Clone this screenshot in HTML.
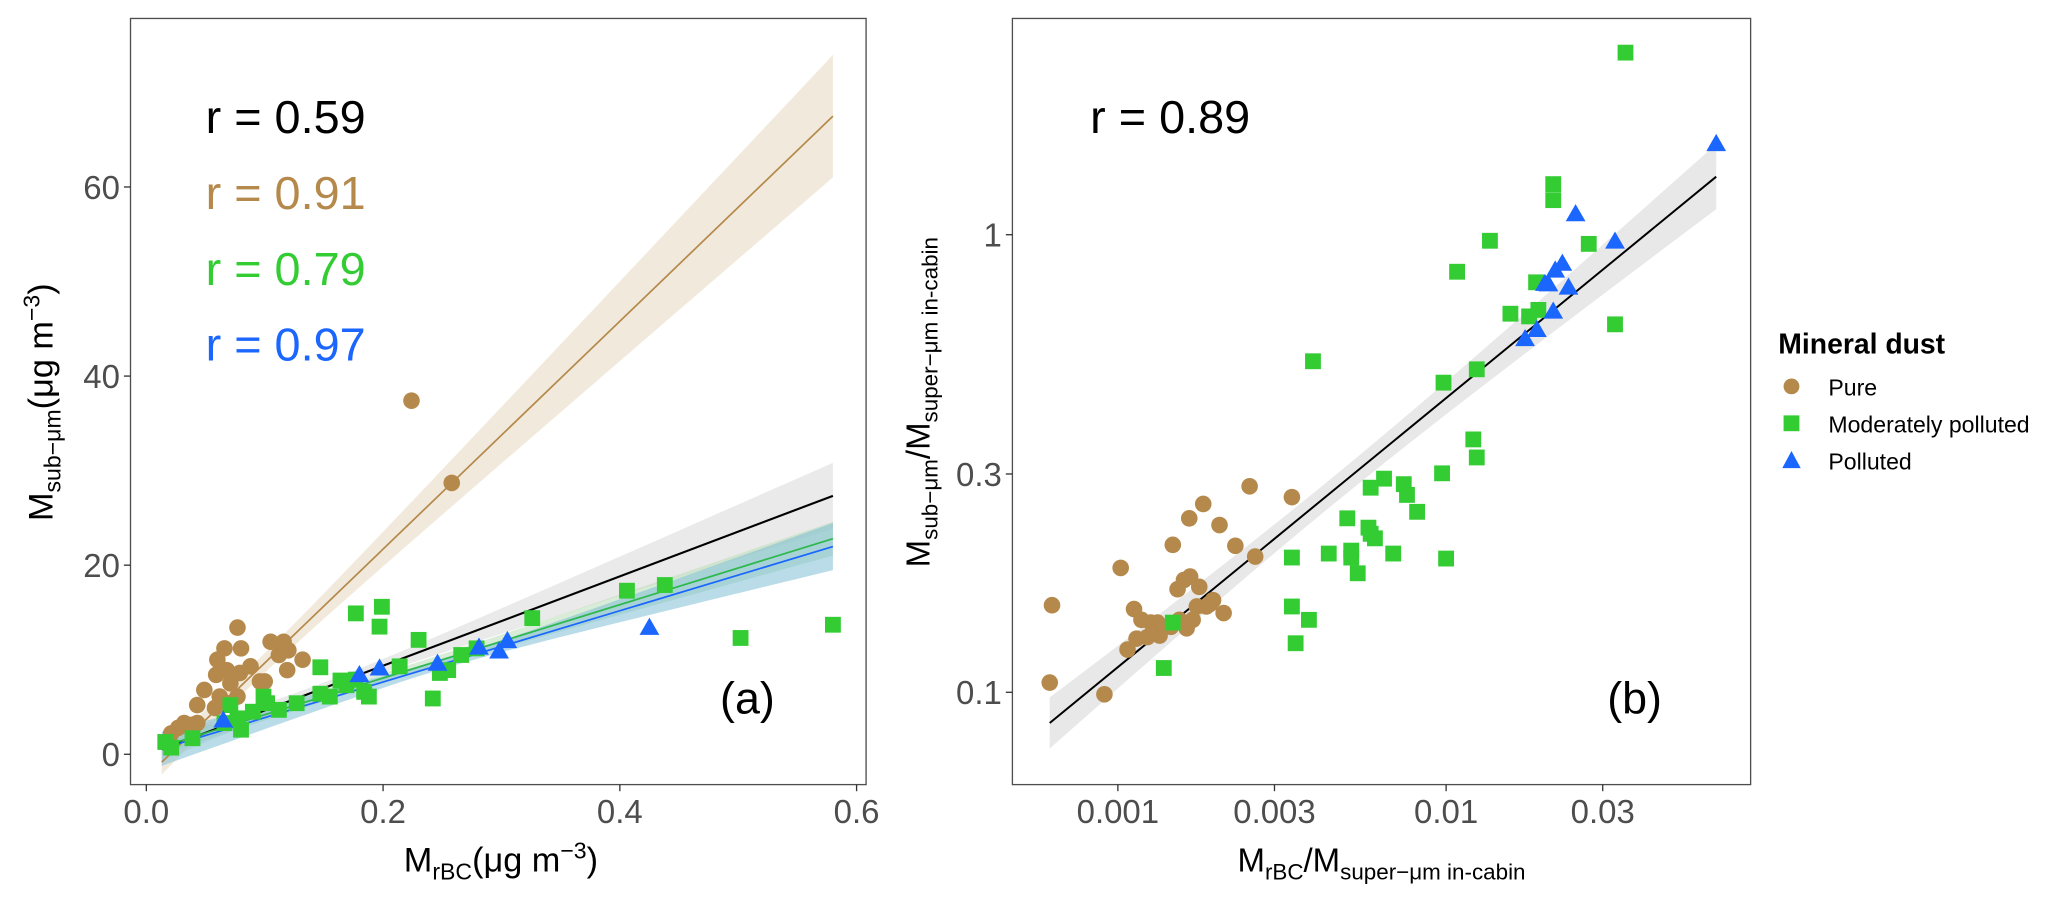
<!DOCTYPE html>
<html><head><meta charset="utf-8"><style>
html,body{margin:0;padding:0;background:#fff;}
svg{display:block;font-family:"Liberation Sans",Arial,sans-serif;}
</style></head><body>
<svg id="chart" width="2067" height="898" viewBox="0 0 1568 681" preserveAspectRatio="none" xmlns="http://www.w3.org/2000/svg">
<rect x="0" y="0" width="1568" height="681" fill="#fff"/>
<g id="pa"></g>
<g id="pb"></g>
<g id="legend">
<text x="1349" y="268" font-size="21.5" font-weight="bold" fill="#000">Mineral dust</text>
<circle cx="1359" cy="293" r="6" fill="#b5894b"/>
<text x="1387" y="300" font-size="17.5" fill="#000">Pure</text>
<rect x="1353" y="315" width="12" height="12" fill="#33cc33"/>
<text x="1387" y="328" font-size="17.5" fill="#000">Moderately polluted</text>
<polygon points="1359,342 1366,355 1352,355" fill="#1a66ff"/>
<text x="1387" y="356" font-size="17.5" fill="#000">Polluted</text>
</g>
</svg>
<script>
// ---------- Panel (a) data ----------
const aPureX=[0.224,0.258,0.077,0.066,0.080,0.060,0.105,0.116,0.120,0.132,0.112,0.119,0.088,0.079,0.068,0.059,0.071,0.096,0.100,0.049,0.062,0.077,0.070,0.058,0.043,0.032,0.038,0.027,0.021,0.043];
const aPureY=[37.4,28.7,13.4,11.2,11.2,10.0,11.9,11.9,11.0,10.0,10.5,8.9,9.3,8.6,8.9,8.4,7.5,7.7,7.7,6.8,6.1,6.1,5.4,4.9,5.2,3.3,3.1,2.8,2.2,3.3];
const aModX=[0.016,0.021,0.039,0.066,0.080,0.077,0.071,0.090,0.099,0.102,0.112,0.127,0.147,0.155,0.164,0.169,0.177,0.184,0.188,0.177,0.199,0.197,0.214,0.230,0.242,0.248,0.255,0.266,0.279,0.326,0.406,0.438,0.502,0.580,0.147];
const aModY=[1.3,0.7,1.7,3.3,2.6,3.8,5.2,4.5,6.1,5.4,4.7,5.4,6.4,6.1,7.8,7.3,7.9,6.6,6.1,14.9,15.6,13.5,9.3,12.1,5.9,8.6,8.9,10.5,11.2,14.4,17.3,17.9,12.3,13.7,9.2];
const aPolX=[0.065,0.180,0.197,0.246,0.281,0.298,0.305,0.425];
const aPolY=[3.6,8.4,9.1,9.6,11.3,10.9,12.0,13.4];
const aFitNames=['all','pure','moderate','polluted'];
const aFitIntercept=[-0.1,-2.4,0.3,0.1];
const aFitSlope=[47.3,120.5,38.8,37.7];
const aFitHmin=[0.6,1.0,0.5,0.5];
const aFitK=[8.0,12.8,4.3,7.4];
const aFitXm=[0.15,0.08,0.18,0.25];
const aXTicks=[0.0,0.2,0.4,0.6];
const aXTickLabels=['0.0','0.2','0.4','0.6'];
const aYTicks=[0,20,40,60];
const aYTickLabels=['0','20','40','60'];
const aR=['r = 0.59','r = 0.91','r = 0.79','r = 0.97'];

// ---------- Panel (b) data ----------
const bPureX=[0.00062,0.00091,0.00063,0.00102,0.00112,0.00118,0.00126,0.00132,0.00123,0.00134,0.00145,0.00154,0.00107,0.00114,0.00147,0.00165,0.00182,0.00166,0.00177,0.00152,0.00169,0.00186,0.00195,0.0021,0.00204,0.00228,0.00262,0.00252,0.00339,0.00159,0.00191,0.00174,0.00162];
const bPureY=[0.105,0.099,0.155,0.187,0.152,0.144,0.142,0.142,0.132,0.133,0.139,0.144,0.124,0.131,0.21,0.24,0.258,0.179,0.17,0.168,0.144,0.154,0.159,0.149,0.232,0.209,0.198,0.282,0.267,0.176,0.156,0.154,0.138];
const bModX=[0.00138,0.00147,0.00339,0.00348,0.00382,0.00339,0.00393,0.00439,0.005,0.00514,0.00514,0.00538,0.0058,0.00589,0.00607,0.00647,0.00589,0.0069,0.00743,0.0076,0.00816,0.00972,0.01,0.00982,0.0121,0.0124,0.0124,0.0108,0.0136,0.0157,0.0188,0.0179,0.0191,0.0212,0.0212,0.0272,0.0327,0.0352];
const bModY=[0.113,0.142,0.154,0.128,0.144,0.197,0.529,0.201,0.24,0.204,0.197,0.182,0.229,0.222,0.217,0.293,0.28,0.201,0.285,0.27,0.248,0.301,0.196,0.475,0.357,0.326,0.508,0.83,0.97,0.672,0.787,0.663,0.685,1.29,1.19,0.955,0.637,2.5];
const bPolX=[0.0174,0.0189,0.02,0.0212,0.0215,0.0226,0.0236,0.0248,0.0327,0.0665,0.0205];
const bPolY=[0.592,0.62,0.782,0.68,0.836,0.865,0.767,1.11,0.967,1.58,0.78];
const bFitIntercept=[0.819];
const bFitSlope=[0.588];
const bXTicks=[0.001,0.003,0.01,0.03];
const bXTickLabels=['0.001','0.003','0.01','0.03'];
const bYTicks=[0.1,0.3,1];
const bYTickLabels=['0.1','0.3','1'];
const bR=['r = 0.89'];

const NS='http://www.w3.org/2000/svg';
const COL={pure:'#b5894b',mod:'#33cc33',pol:'#1a66ff',all:'#000'};
function mk(parent,tag,attrs){const e=document.createElementNS(NS,tag);for(const k in attrs)e.setAttribute(k,attrs[k]);parent.appendChild(e);return e;}

const A={l:99,r:657,t:14,b:595};
const ax=v=>111+v*898;
const ay=v=>572-v*7.17;
const pa=document.getElementById('pa');
const aFitCols=['#000','#b5894b','#2db84d','#1a66ff'];
const aBandCols=['#d9d9d9','#e6d8bf','#b8dcb8','#7fc0d6'];
const aBandOp=[0.55,0.55,0.55,0.55];
const x0=0.013,x1=0.58;
for(let f=0;f<4;f++){
  let up=[],lo=[];
  for(let i=0;i<=40;i++){const x=x0+(x1-x0)*i/40;const m=aFitIntercept[f]+aFitSlope[f]*x;const h=Math.sqrt(aFitHmin[f]**2+(aFitK[f]*(x-aFitXm[f]))**2);up.push(ax(x)+','+ay(m+h));lo.unshift(ax(x)+','+ay(m-h));}
  const b=mk(pa,'polygon',{points:up.concat(lo).join(' '),fill:aBandCols[f],'fill-opacity':aBandOp[f]});
  
  
}
for(let f=0;f<4;f++){
  const l=mk(pa,'line',{x1:ax(x0),y1:ay(aFitIntercept[f]+aFitSlope[f]*x0),x2:ax(x1),y2:ay(aFitIntercept[f]+aFitSlope[f]*x1),stroke:aFitCols[f],'stroke-width':f==0?1.6:1.3});
  
  
}
function circ(g,x,y,c,name){const e=mk(g,'circle',{cx:x,cy:y,r:6.3,fill:c});}
function sq(g,x,y,c,name){const e=mk(g,'rect',{x:x-6,y:y-6,width:12,height:12,fill:c});}
function tri(g,x,y,c,name){const e=mk(g,'polygon',{points:`${x},${y-7.5} ${x+7.5},${y+5.5} ${x-7.5},${y+5.5}`,fill:c});}
aPureX.forEach((v,i)=>circ(pa,ax(v),ay(aPureY[i]),COL.pure,'point-a-pure'));
aModX.forEach((v,i)=>sq(pa,ax(v),ay(aModY[i]),COL.mod,'point-a-moderate'));
aPolX.forEach((v,i)=>tri(pa,ax(v),ay(aPolY[i]),COL.pol,'point-a-polluted'));
let fr=mk(pa,'rect',{x:A.l,y:A.t,width:A.r-A.l,height:A.b-A.t,fill:'none',stroke:'#4d4d4d','stroke-width':1});

aXTicks.forEach((v,i)=>{mk(pa,'line',{x1:ax(v),x2:ax(v),y1:A.b,y2:A.b+5,stroke:'#333'});
  const t=mk(pa,'text',{x:ax(v),y:A.b+29,'font-size':25,fill:'#4d4d4d','text-anchor':'middle'});t.textContent=aXTickLabels[i];
  });
aYTicks.forEach((v,i)=>{mk(pa,'line',{x1:A.l-5,x2:A.l,y1:ay(v),y2:ay(v),stroke:'#333'});
  const t=mk(pa,'text',{x:A.l-8,y:ay(v)+9,'font-size':25,fill:'#4d4d4d','text-anchor':'end'});t.textContent=aYTickLabels[i];
  });
const rCols=['#000','#b5894b','#33cc33','#1a66ff'];
aR.forEach((s,i)=>{const t=mk(pa,'text',{x:156,y:101+i*57.5,'font-size':35.5,fill:rCols[i]});t.textContent=s;
  });
let lab=mk(pa,'text',{x:567,y:541,'font-size':34,fill:'#000','text-anchor':'middle'});lab.textContent='(a)';

let xt=mk(pa,'text',{x:380,y:661,'font-size':26,fill:'#000','text-anchor':'middle'});
xt.innerHTML='M<tspan font-size="17.5" dy="6">rBC</tspan><tspan dy="-6">(μg m</tspan><tspan font-size="17.5" dy="-10">−3</tspan><tspan dy="10">)</tspan>';

let yt=mk(pa,'text',{x:0,y:0,'font-size':26,fill:'#000','text-anchor':'middle',transform:'translate(40,305) rotate(-90)'});
yt.innerHTML='M<tspan font-size="17.5" dy="6">sub−μm</tspan><tspan dy="-6">(μg m</tspan><tspan font-size="17.5" dy="-10">−3</tspan><tspan dy="10">)</tspan>';


const B={l:768,r:1328,t:14,b:595};
const bx=v=>848+249*Math.log10(v/0.001);
const by=v=>178-347*Math.log10(v);
const pb=document.getElementById('pb');
{
  const lx0=Math.log10(0.00062),lx1=Math.log10(0.0665),xm=-2.35;
  let up=[],lo=[];
  for(let i=0;i<=40;i++){const lx=lx0+(lx1-lx0)*i/40;const m=bFitIntercept[0]+bFitSlope[0]*lx;const h=Math.sqrt(0.03**2+(0.055*(lx-xm))**2);
    const px=bx(Math.pow(10,lx));up.push(px+','+by(Math.pow(10,m+h)));lo.unshift(px+','+by(Math.pow(10,m-h)));}
  const b=mk(pb,'polygon',{points:up.concat(lo).join(' '),fill:'#d9d9d9','fill-opacity':0.6});
  
  const l=mk(pb,'line',{x1:bx(Math.pow(10,lx0)),y1:by(Math.pow(10,bFitIntercept[0]+bFitSlope[0]*lx0)),x2:bx(Math.pow(10,lx1)),y2:by(Math.pow(10,bFitIntercept[0]+bFitSlope[0]*lx1)),stroke:'#000','stroke-width':1.5});
  
}
bPureX.forEach((v,i)=>circ(pb,bx(v),by(bPureY[i]),COL.pure,'point-b-pure'));
bModX.forEach((v,i)=>sq(pb,bx(v),by(bModY[i]),COL.mod,'point-b-moderate'));
bPolX.forEach((v,i)=>tri(pb,bx(v),by(bPolY[i]),COL.pol,'point-b-polluted'));
fr=mk(pb,'rect',{x:B.l,y:B.t,width:B.r-B.l,height:B.b-B.t,fill:'none',stroke:'#4d4d4d','stroke-width':1});

bXTicks.forEach((v,i)=>{mk(pb,'line',{x1:bx(v),x2:bx(v),y1:B.b,y2:B.b+5,stroke:'#333'});
  const t=mk(pb,'text',{x:bx(v),y:B.b+29,'font-size':25,fill:'#4d4d4d','text-anchor':'middle'});t.textContent=bXTickLabels[i];
  });
bYTicks.forEach((v,i)=>{mk(pb,'line',{x1:B.l-5,x2:B.l,y1:by(v),y2:by(v),stroke:'#333'});
  const t=mk(pb,'text',{x:B.l-8,y:by(v)+9,'font-size':25,fill:'#4d4d4d','text-anchor':'end'});t.textContent=bYTickLabels[i];
  });
let rb=mk(pb,'text',{x:827,y:101,'font-size':35.5,fill:'#000'});rb.textContent=bR[0];

lab=mk(pb,'text',{x:1240,y:541,'font-size':34,fill:'#000','text-anchor':'middle'});lab.textContent='(b)';

xt=mk(pb,'text',{x:1048,y:661,'font-size':25,fill:'#000','text-anchor':'middle'});
xt.innerHTML='M<tspan font-size="17" dy="6">rBC</tspan><tspan dy="-6">/M</tspan><tspan font-size="17" dy="6">super−μm in-cabin</tspan>';

yt=mk(pb,'text',{x:0,y:0,'font-size':25,fill:'#000','text-anchor':'middle',transform:'translate(705,305) rotate(-90)'});
yt.innerHTML='M<tspan font-size="17" dy="6">sub−μm</tspan><tspan dy="-6">/M</tspan><tspan font-size="17" dy="6">super−μm in-cabin</tspan>';

</script>
</body></html>
